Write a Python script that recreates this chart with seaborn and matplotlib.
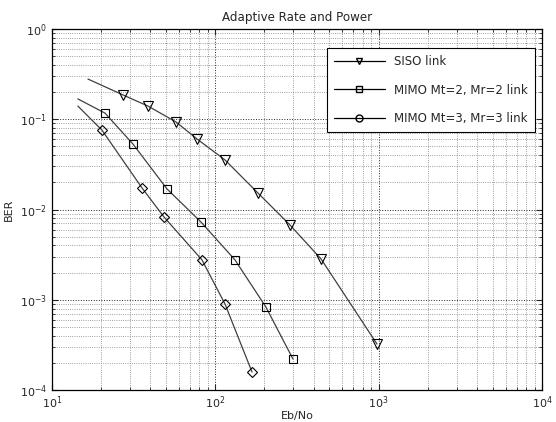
import matplotlib
matplotlib.use("Agg")
import matplotlib.pyplot as plt
import seaborn as sns
from matplotlib.lines import Line2D

# Eb/No and BER (first point of each curve carries no marker)
siso_ebno = [16.6, 27.2, 38.7, 57.5, 77.3, 114.6, 182.6, 286.6, 444.0, 977.0]
siso_ber = [0.279, 0.186, 0.140, 0.0932, 0.0604, 0.0354, 0.0152, 0.00673, 0.00283, 3.23e-4]

mimo2_ebno = [14.4, 21.1, 31.3, 50.6, 81.7, 132.0, 204.0, 299.0]
mimo2_ber = [0.168, 0.117, 0.0532, 0.0169, 0.00727, 0.00276, 8.31e-4, 2.2e-4]

mimo3_ebno = [14.4, 20.2, 35.6, 48.5, 82.9, 114.6, 167.8]
mimo3_ber = [0.140, 0.076, 0.0173, 0.00826, 0.00276, 8.97e-4, 1.58e-4]

labels = ["SISO link", "MIMO Mt=2, Mr=2 link", "MIMO Mt=3, Mr=3 link"]

sns.set_style("ticks")
plt.rcParams["font.family"] = ["DejaVu Sans"]
plt.rcParams["font.size"] = 8

fig = plt.figure(figsize=(5.56, 4.22), dpi=100)
ax = fig.add_axes([0.0935, 0.0758, 0.8813, 0.8555])
ax.set_xscale("log")
ax.set_yscale("log")

series = [
    (siso_ebno, siso_ber, "v", 6.5),
    (mimo2_ebno, mimo2_ber, "s", 6.0),
    (mimo3_ebno, mimo3_ber, "D", 5.0),
]
for xs, ys, mk, ms in series:
    sns.lineplot(
        x=xs, y=ys, ax=ax, estimator=None, sort=False,
        color="0.25", linewidth=0.9,
        marker=mk, markevery=list(range(1, len(xs))),
        markersize=ms, mfc="none", mec="k", mew=0.8,
    )

ax.set_xlim(10, 1e4)
ax.set_ylim(1e-4, 1)
ax.grid(True, which="major", linestyle=":", color="0.15", linewidth=0.7)
ax.grid(True, which="minor", linestyle=":", color="0.5", linewidth=0.6)
ax.tick_params(which="both", direction="in", top=True, right=True, labelsize=8)
ax.tick_params(which="major", length=4)
ax.tick_params(which="minor", length=2)
for s in ax.spines.values():
    s.set_linewidth(0.9)
    s.set_color("k")

ax.set_title("Adaptive Rate and Power", fontsize=8.6, pad=6)
ax.set_xlabel("Eb/No", fontsize=8, labelpad=0)
ax.set_ylabel("BER", fontsize=8, labelpad=4)

handles = [
    Line2D([], [], color="k", lw=0.9, marker="v", ms=5, mfc="none", mec="k"),
    Line2D([], [], color="k", lw=0.9, marker="s", ms=5, mfc="none", mec="k"),
    Line2D([], [], color="k", lw=0.9, marker="o", ms=5, mfc="none", mec="k"),
]
leg = ax.legend(handles, labels, loc="upper right", bbox_to_anchor=(0.986, 0.947),
                borderaxespad=0, frameon=True, fancybox=False, fontsize=8.5,
                handlelength=4.3, labelspacing=1.3, borderpad=0.6, handletextpad=0.8)
leg.get_frame().set_edgecolor("k")
leg.get_frame().set_linewidth(0.8)
leg.get_frame().set_alpha(1)

fig.savefig("out.png", dpi=100)
